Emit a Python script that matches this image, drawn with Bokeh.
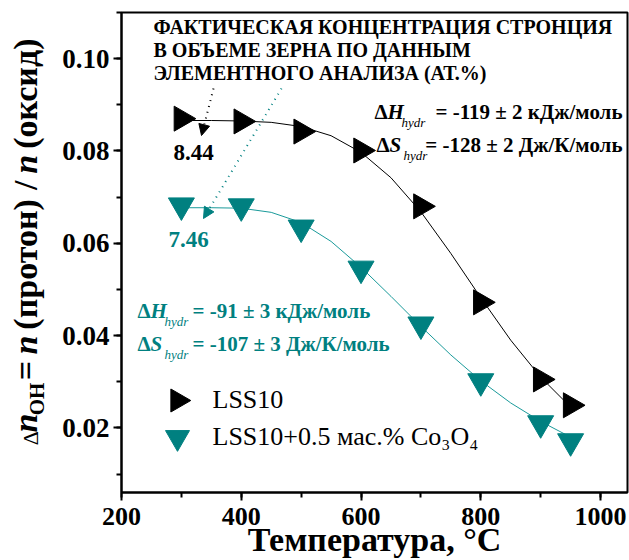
import numpy as np
from bokeh.plotting import figure
from bokeh.models import (Label, Arrow, NormalHead, SingleIntervalTicker, Range1d,
                          CustomJSTickFormatter)
from bokeh.layouts import row
from bokeh.core.properties import value
from bokeh.embed import file_html
from bokeh.resources import INLINE

# ---- data ----
temps = [300, 400, 500, 600, 700, 800, 900, 950]
lss10 = [0.0870, 0.0864, 0.0842, 0.0801, 0.0680, 0.0472, 0.0305, 0.0249]
lss10_co = [0.0682, 0.0680, 0.0634, 0.0545, 0.0424, 0.0301, 0.0210, 0.0171]

fit_t = [300, 350, 400, 450, 500, 550, 600, 650, 700, 750, 800, 850, 900, 950]
fit_lss10 = [0.0866, 0.0866, 0.0865, 0.0862, 0.0853, 0.0833, 0.0797, 0.0742,
             0.0668, 0.0578, 0.0482, 0.0390, 0.0310, 0.0245]
fit_co = [0.0677, 0.0677, 0.0676, 0.0667, 0.0645, 0.0604, 0.0548, 0.0485,
          0.0420, 0.0358, 0.0302, 0.0254, 0.0214, 0.0180]

series_names = ["LSS10", "LSS10+0.5 мас.% Co₃O₄"]
title_lines = ["ФАКТИЧЕСКАЯ КОНЦЕНТРАЦИЯ СТРОНЦИЯ",
               "В ОБЪЕМЕ ЗЕРНА ПО ДАННЫМ",
               "ЭЛЕМЕНТНОГО АНАЛИЗА (АТ.%)"]
sr_values = ["8.44", "7.46"]
x_title = "Температура, °C"

BLACK = "#000000"
TEAL = "#008080"
TEAL_LINE = "#1a9a9a"
FONT = "Liberation Serif"

W, H = 629, 560
LEFTW = 52          # width of the y-title strip
FL, FR, FT, FB = 121, 627, 12, 492   # frame in page pixels
XR = (200, 1045)
YR = (0.006, 0.11)
SHIFT = 0.04        # empirical: anchor offset so that Y is the cap centre


def dx(X):
    return XR[0] + (X - FL) * (XR[1] - XR[0]) / (FR - FL)


def dy(Y):
    return YR[1] - (Y - FT) * (YR[1] - YR[0]) / (FB - FT)


p = figure(width=W - LEFTW, height=H, output_backend="svg", toolbar_location=None,
           x_range=Range1d(*XR), y_range=Range1d(*YR),
           min_border_left=FL - LEFTW, min_border_right=W - FR,
           min_border_top=FT, min_border_bottom=H - FB)
p.grid.visible = False
p.outline_line_color = "black"
p.outline_line_width = 2

for ax in (p.xaxis[0], p.yaxis[0]):
    ax.axis_line_width = 2
    ax.major_tick_line_width = 2
    ax.minor_tick_line_width = 2
    ax.major_tick_in = 0
    ax.major_tick_out = 8
    ax.minor_tick_in = 0
    ax.minor_tick_out = 5
    ax.major_label_text_font = FONT
    ax.major_label_text_font_style = "bold"
    ax.major_label_text_color = "black"

p.xaxis.ticker = SingleIntervalTicker(interval=200, num_minor_ticks=2)
p.yaxis.ticker = SingleIntervalTicker(interval=0.02, num_minor_ticks=2)
p.xaxis.major_label_text_font_size = "26px"
p.yaxis.major_label_text_font_size = "27px"
p.xaxis.major_label_standoff = 7
p.yaxis.major_label_standoff = 4
p.yaxis.formatter = CustomJSTickFormatter(code="return tick.toFixed(2);")

p.xaxis.axis_label = x_title
p.xaxis.axis_label_text_font = FONT
p.xaxis.axis_label_text_font_size = "34px"
p.xaxis.axis_label_text_font_style = "bold"
p.xaxis.axis_label_text_color = "black"
p.xaxis.axis_label_standoff = -7

# fit curves
p.line(fit_t, fit_lss10, line_color=BLACK, line_width=1)
p.line(fit_t, fit_co, line_color=TEAL_LINE, line_width=1)

# markers
p.scatter(temps, lss10, marker="triangle", angle=-np.pi / 2, size=25,
          fill_color=BLACK, line_color=BLACK)
p.scatter(temps, lss10_co, marker="inverted_triangle", size=26,
          fill_color=TEAL, line_color=TEAL)

# dotted arrows
p.add_layout(Arrow(x_start=dx(213), y_start=dy(88), x_end=dx(201), y_end=dy(135),
                   line_color=BLACK, line_width=2, line_dash="1 5",
                   end=NormalHead(size=11, fill_color=BLACK, line_color=BLACK, line_width=1)))
p.add_layout(Arrow(x_start=dx(281), y_start=dy(88), x_end=dx(203), y_end=dy(218),
                   line_color=TEAL, line_width=2, line_dash="1 5",
                   end=NormalHead(size=11, fill_color=TEAL, line_color=TEAL, line_width=1)))


def lab(text, X, Yc, size, color="black", style="bold", align="left"):
    """Yc is the visual centre of capitals in page pixels."""
    p.add_layout(Label(x=dx(X), y=dy(Yc - SHIFT * size), text=text, text_font=FONT,
                       text_font_size=f"{size}px", text_font_style=style,
                       text_color=color, text_align=align,
                       text_baseline="alphabetic"))


# title block
for i, t in enumerate(title_lines):
    lab(t, 153, 27 + 23 * i, 20)

# values
lab(sr_values[0], 193, 153, 23, align="center")
lab(sr_values[1], 188, 240, 23, color=TEAL, align="center")

TS = 21


def thermo(sym, rest, X, Yc, color, right=None, left=None):
    lab("Δ", X, Yc, TS, color)
    lab(sym, X + 13, Yc, TS, color, style="bold italic")
    lab("hydr", X + 27, Yc + 11, 13, color, style="italic")
    if right is not None:
        lab(rest, right, Yc, TS, color, align="right")
    else:
        lab(rest, left, Yc, TS, color)


thermo("H", "= -119 ± 2 кДж/моль", 374, 112, BLACK, right=622)
thermo("S", "= -128 ± 2 Дж/К/моль", 376, 145, BLACK, right=622)
thermo("H", "= -91 ± 3 кДж/моль", 137, 311, TEAL, left=192)
thermo("S", "= -107 ± 3 Дж/К/моль", 137, 344, TEAL, left=192)

# legend
p.scatter([dx(177)], [dy(400)], marker="triangle", angle=-np.pi / 2, size=23,
          fill_color=BLACK, line_color=BLACK)
p.scatter([dx(177)], [dy(437)], marker="inverted_triangle", size=24,
          fill_color=TEAL, line_color=TEAL)
lab(series_names[0], 212, 400, 26, style="normal")
lab(series_names[1], 212, 437, 26, style="normal")

# ---- y-title strip (rotated pieces, reading bottom to top) ----
yl = figure(width=LEFTW, height=H, output_backend="svg", toolbar_location=None,
            x_range=Range1d(0, LEFTW), y_range=Range1d(0, H),
            x_axis_location=None, y_axis_location=None, min_border=0,
            outline_line_color=None)
yl.grid.visible = False
ang = np.pi / 2
YS = 34
XC = 24          # cap centre line (page x) of the main text
# text, size, style, x offset of cap centre, bottom end (page y) of the piece
pieces = [("Δ", 22, "normal", 5, 505),
          ("n", YS, "bold italic", 0, 490),
          ("OH", 21, "bold", 12, 470),
          ("=", YS, "bold", 0, 429),
          ("n", YS, "bold italic", 0, 399),
          ("(протон)", YS, "bold", 0, 370),
          ("/", YS, "bold", 0, 207),
          ("n", YS, "bold italic", 0, 188),
          ("(оксид)", YS, "bold", 0, 159)]
for txt, sz, st, off, yb in pieces:
    yl.text(x=[XC + off + SHIFT * sz], y=[H - yb], text=[txt], angle=ang,
            text_font=value(FONT), text_font_size=f"{sz}px", text_font_style=st,
            text_color="black", text_align="left", text_baseline="alphabetic")

layout = row(yl, p, spacing=0)
open("out.html", "w").write(file_html(layout, INLINE))
